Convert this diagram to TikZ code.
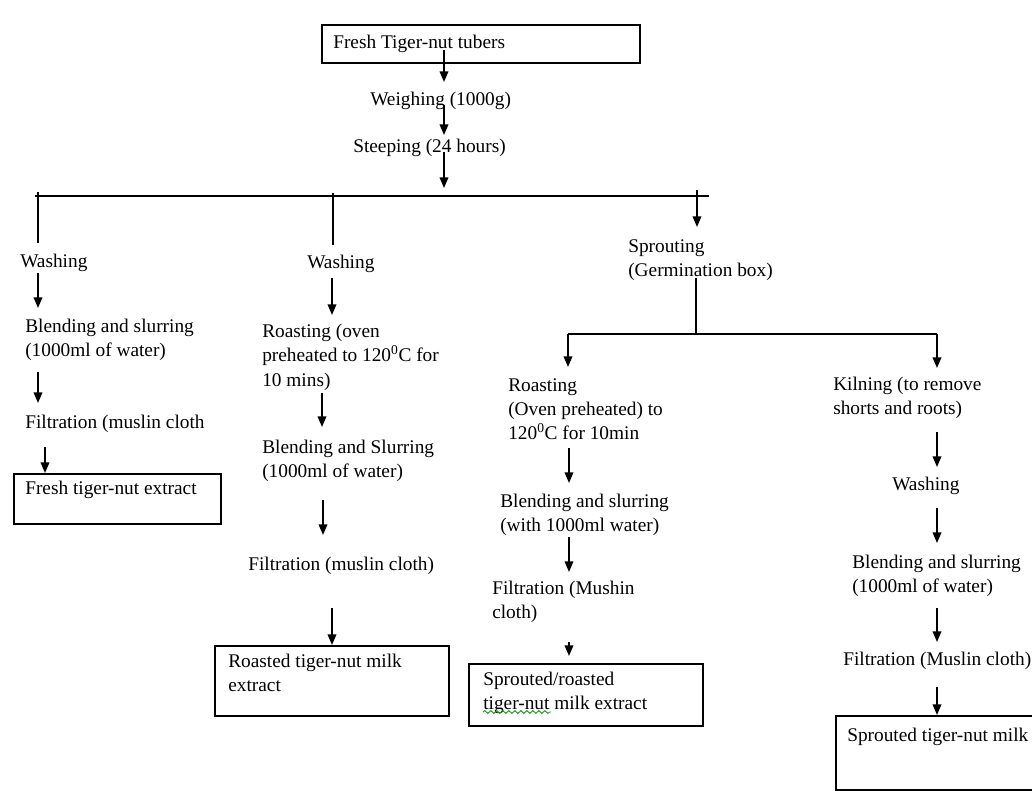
\documentclass[tikz,border=0pt]{standalone}
\usepackage{fontspec}
\setmainfont{Liberation Serif}
\usetikzlibrary{arrows.meta,decorations.pathmorphing}
\begin{document}
\begin{tikzpicture}[x=0.75pt,y=-0.75pt,
  txt/.style={anchor=north west, inner sep=0pt, align=left, font=\fontsize{14.5}{18.2}\selectfont},
  boxnode/.style={draw, line width=1.3pt, anchor=north west, inner sep=0pt},
  arr/.style={line width=1.2pt, -{Triangle[length=8pt,width=6.5pt]}},
  ln/.style={line width=1.2pt}]
\useasboundingbox (0,0) rectangle (1032,791);
\begin{scope}
\clip (0,0) rectangle (1032,791);
% boxes
\node[boxnode, minimum width=238.5pt, minimum height=28.5pt] (b0) at (321,24) {};
\node[boxnode, minimum width=155.25pt, minimum height=37.5pt] (b1) at (13,473) {};
\node[boxnode, minimum width=175.5pt, minimum height=52.5pt] (b2) at (214,645) {};
\node[boxnode, minimum width=175.5pt, minimum height=46.5pt] (b3) at (468,663) {};
\node[boxnode, minimum width=157.5pt, minimum height=55.5pt] (b4) at (835,715) {};
\end{scope}
% texts
\node[txt] (t0) at (333,35) {Fresh Tiger-nut tubers};
\node[txt] (w) at (370,92) {Weighing (1000g)};
\node[txt] (s) at (353,139) {Steeping (24 hours)};
\node[txt] (c1a) at (20,254) {Washing};
\node[txt] (c1b) at (25,319) {Blending and slurring\\(1000ml of water)};
\node[txt] (c1c) at (25,415) {Filtration (muslin cloth};
\node[txt] (c1d) at (25,481) {Fresh tiger-nut extract};
\node[txt] (c2a) at (307,255) {Washing};
\node[txt] (c2b) at (262,324) {Roasting (oven\\preheated to 120\textsuperscript{0}C for\\10 mins)};
\node[txt] (c2c) at (262,440) {Blending and Slurring\\(1000ml of water)};
\node[txt] (c2d) at (248,557) {Filtration (muslin cloth)};
\node[txt] (c2e) at (228,654) {Roasted tiger-nut milk\\extract};
\node[txt] (sp) at (628,239) {Sprouting\\(Germination box)};
\node[txt] (c3a) at (508,378) {Roasting\\(Oven preheated) to\\120\textsuperscript{0}C for 10min};
\node[txt] (c3b) at (500,494) {Blending and slurring\\(with 1000ml water)};
\node[txt] (c3c) at (492,581) {Filtration (Mushin\\cloth)};
\node[txt] (c3d) at (483,672) {Sprouted/roasted\\tiger-nut milk extract};
\node[txt] (c4a) at (833,377) {Kilning (to remove\\shorts and roots)};
\node[txt] (c4b) at (892,477) {Washing};
\node[txt] (c4c) at (852,555) {Blending and slurring\\(1000ml of water)};
\node[txt] (c4d) at (843,652) {Filtration (Muslin cloth)};
\node[txt] (c4e) at (847,728) {Sprouted tiger-nut milk};
% spell-check underline
\coordinate (u1) at (483,712);
\coordinate (u2) at (551,712);
\draw[green!60!black, line width=0.6pt, decorate, decoration={snake, segment length=4.5pt, amplitude=1pt}] (u1) -- (u2);
% main trunk
\coordinate (m1) at (444,50);  \coordinate (m2) at (444,82);
\coordinate (m3) at (444,105); \coordinate (m4) at (444,135);
\coordinate (m5) at (444,152); \coordinate (m6) at (444,188);
\draw[arr] (m1) -- (m2);
\draw[arr] (m3) -- (m4);
\draw[arr] (m5) -- (m6);
% first bar
\coordinate (bl) at (35,196); \coordinate (br) at (709,196);
\draw[ln] (bl) -- (br);
\coordinate (v1a) at (38,192); \coordinate (v1b) at (38,243);
\coordinate (v2a) at (333,193); \coordinate (v2b) at (333,245);
\coordinate (v3a) at (697,190); \coordinate (v3b) at (697,227);
\draw[ln] (v1a) -- (v1b);
\draw[ln] (v2a) -- (v2b);
\draw[arr] (v3a) -- (v3b);
% column 1
\coordinate (k1) at (38,273); \coordinate (k2) at (38,308);
\coordinate (k3) at (38,372); \coordinate (k4) at (38,403);
\coordinate (k5) at (45,447);
\draw[arr] (k1) -- (k2);
\draw[arr] (k3) -- (k4);
\draw[arr] (k5) -- (b1.north -| k5);
% column 2
\coordinate (q1) at (332,278); \coordinate (q2) at (332,315);
\coordinate (q3) at (322,393); \coordinate (q4) at (322,427);
\coordinate (q5) at (323,500); \coordinate (q6) at (323,535);
\coordinate (q7) at (332,608);
\draw[arr] (q1) -- (q2);
\draw[arr] (q3) -- (q4);
\draw[arr] (q5) -- (q6);
\draw[arr] (q7) -- (b2.north -| q7);
% sprouting split
\coordinate (sv1) at (696,278); \coordinate (sv2) at (696,334);
\coordinate (sl) at (568,334); \coordinate (sr) at (937,334);
\coordinate (sld) at (568,367); \coordinate (srd) at (937,368);
\draw[ln] (sv1) -- (sv2);
\draw[ln] (sl) -- (sr);
\draw[arr] (sl) -- (sld);
\draw[arr] (sr) -- (srd);
% column 3
\coordinate (r1) at (569,448); \coordinate (r2) at (569,483);
\coordinate (r3) at (569,537); \coordinate (r4) at (569,572);
\coordinate (r5) at (569,642); \coordinate (r6) at (569,656);
\draw[arr] (r1) -- (r2);
\draw[arr] (r3) -- (r4);
\draw[arr] (r5) -- (r6);
% column 4
\coordinate (g1) at (937,432); \coordinate (g2) at (937,467);
\coordinate (g3) at (937,508); \coordinate (g4) at (937,543);
\coordinate (g5) at (937,608); \coordinate (g6) at (937,642);
\coordinate (g7) at (937,687);
\draw[arr] (g1) -- (g2);
\draw[arr] (g3) -- (g4);
\draw[arr] (g5) -- (g6);
\draw[arr] (g7) -- (b4.north -| g7);
\end{tikzpicture}
\end{document}
